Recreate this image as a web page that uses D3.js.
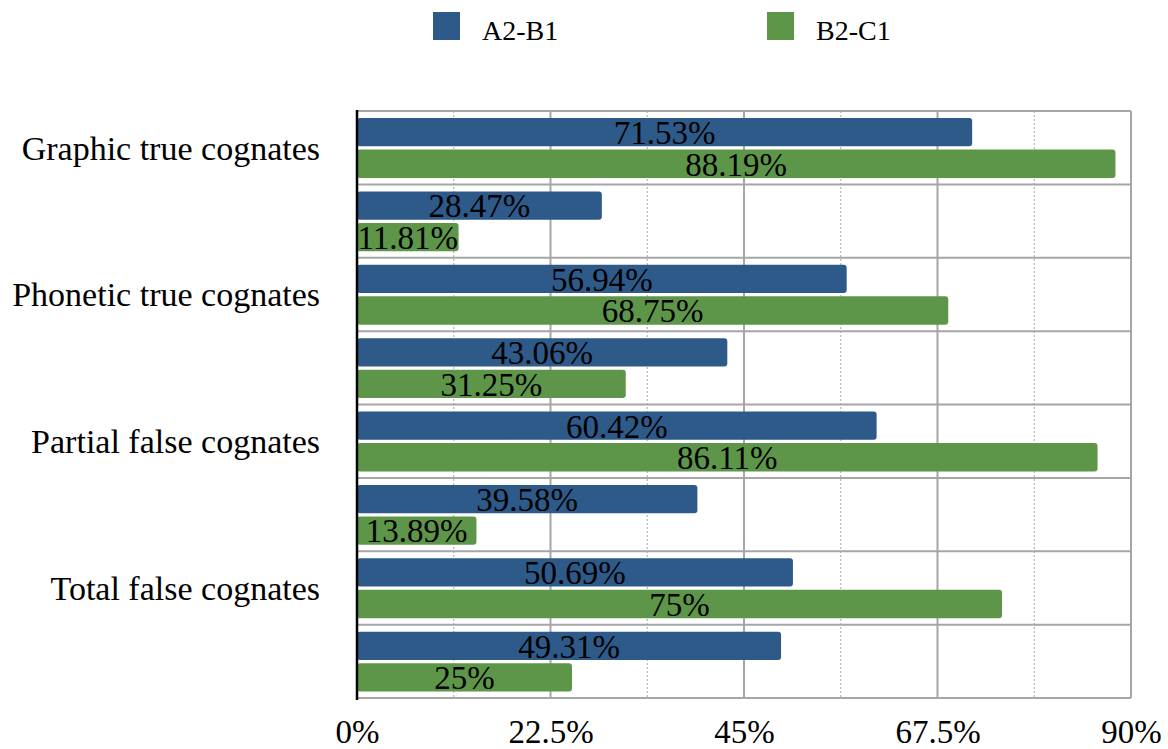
<!DOCTYPE html>
<html>
<head>
<meta charset="utf-8">
<script src="https://cdn.jsdelivr.net/npm/d3@7"></script>
<style>
  html, body { margin: 0; padding: 0; background: #fff; }
  svg { display: block; }
  text { font-family: "Liberation Serif", "Times New Roman", serif; fill: #000; }
</style>
</head>
<body>
<svg id="chart" width="1168" height="749"></svg>
<script>
// ---- data ----
const rowLabels = ["Graphic true cognates", "", "Phonetic true cognates", "", "Partial false cognates", "", "Total false cognates", ""];
const seriesNames = ["A2-B1", "B2-C1"];
const seriesA = [71.53, 28.47, 56.94, 43.06, 60.42, 39.58, 50.69, 49.31];
const seriesB = [88.19, 11.81, 68.75, 31.25, 86.11, 13.89, 75, 25];
const majorTicks = [0, 22.5, 45, 67.5, 90];
const minorTicks = [11.25, 33.75, 56.25, 78.75];
const colors = ["#2e5a8a", "#5e9649"];

const FONT = '"Liberation Serif", "Times New Roman", serif';

// ---- layout ----
const svg = d3.select("#chart");
const plotLeft = 357, plotRight = 1131, plotTop = 111, plotBottom = 698;

const x = d3.scaleLinear().domain([0, 90]).range([plotLeft, plotRight]);
const rowIdx = d3.range(rowLabels.length);
const y = d3.scaleBand().domain(rowIdx).range([plotTop, plotBottom]).padding(0);
const ySub = d3.scaleBand().domain(seriesNames).range([7, y.bandwidth() - 6.5]).paddingInner(0.1);

// horizontal row gridlines
svg.append("g").selectAll("line")
  .data(rowIdx.concat([rowLabels.length]))
  .join("line")
  .attr("x1", plotLeft).attr("x2", plotRight)
  .attr("y1", d => d < rowLabels.length ? y(d) : plotBottom)
  .attr("y2", d => d < rowLabels.length ? y(d) : plotBottom)
  .attr("stroke", "#a6a6a6").attr("stroke-width", 2);

// minor dotted vertical gridlines
svg.append("g").selectAll("line")
  .data(minorTicks)
  .join("line")
  .attr("x1", d => x(d)).attr("x2", d => x(d))
  .attr("y1", plotTop).attr("y2", plotBottom)
  .attr("stroke", "#a6a6a6").attr("stroke-width", 1).attr("stroke-dasharray", "2,2");

// major vertical gridlines
svg.append("g").selectAll("line")
  .data(majorTicks.filter(d => d > 0))
  .join("line")
  .attr("x1", d => x(d)).attr("x2", d => x(d))
  .attr("y1", plotTop).attr("y2", plotBottom)
  .attr("stroke", "#a6a6a6").attr("stroke-width", 2);

// bars
const rows = rowIdx.map(i => ({ i, vals: [
  { s: seriesNames[0], v: seriesA[i], c: colors[0] },
  { s: seriesNames[1], v: seriesB[i], c: colors[1] }
]}));

const rg = svg.append("g").selectAll("g")
  .data(rows)
  .join("g")
  .attr("transform", d => `translate(0,${y(d.i)})`);

rg.selectAll("rect")
  .data(d => d.vals)
  .join("rect")
  .attr("x", x(0))
  .attr("y", d => ySub(d.s))
  .attr("width", d => x(d.v) - x(0))
  .attr("height", ySub.bandwidth())
  .attr("rx", 3)
  .attr("fill", d => d.c);

rg.selectAll("text")
  .data(d => d.vals)
  .join("text")
  .attr("x", d => (x(0) + x(d.v)) / 2)
  .attr("y", d => ySub(d.s) + ySub.bandwidth() / 2)
  .attr("dy", "0.36em")
  .attr("text-anchor", "middle")
  .style("font-family", FONT)
  .style("font-size", "33px")
  .text(d => `${d.v}%`);

// left axis line
svg.append("line")
  .attr("x1", plotLeft).attr("x2", plotLeft)
  .attr("y1", plotTop - 1).attr("y2", plotBottom + 2)
  .attr("stroke", "#000").attr("stroke-width", 2.5);

// y axis labels
const yAxis = d3.axisLeft(y).tickSize(0).tickPadding(37).tickFormat(i => rowLabels[i]);
const gy = svg.append("g").attr("transform", `translate(${plotLeft},0)`).call(yAxis);
gy.select(".domain").remove();
gy.selectAll("text").style("font-family", FONT).style("font-size", "34px").attr("dy", "0.35em");

// x axis labels
const xAxis = d3.axisBottom(x).tickValues(majorTicks).tickSize(0).tickPadding(22).tickFormat(d => `${d}%`);
const gx = svg.append("g").attr("transform", `translate(0,${plotBottom})`).call(xAxis);
gx.select(".domain").remove();
gx.selectAll("text").style("font-family", FONT).style("font-size", "33px");

// legend
const legendX = [433, 767];
const lg = svg.append("g").selectAll("g")
  .data(seriesNames)
  .join("g")
  .attr("transform", (d, i) => `translate(${legendX[i]},12)`);
lg.append("rect").attr("width", 27).attr("height", 28)
  .attr("fill", (d, i) => colors[i]);
lg.append("text").attr("x", 49).attr("y", 27.5)
  .style("font-family", FONT)
  .style("font-size", "28px")
  .text(d => d);
</script>
</body>
</html>
